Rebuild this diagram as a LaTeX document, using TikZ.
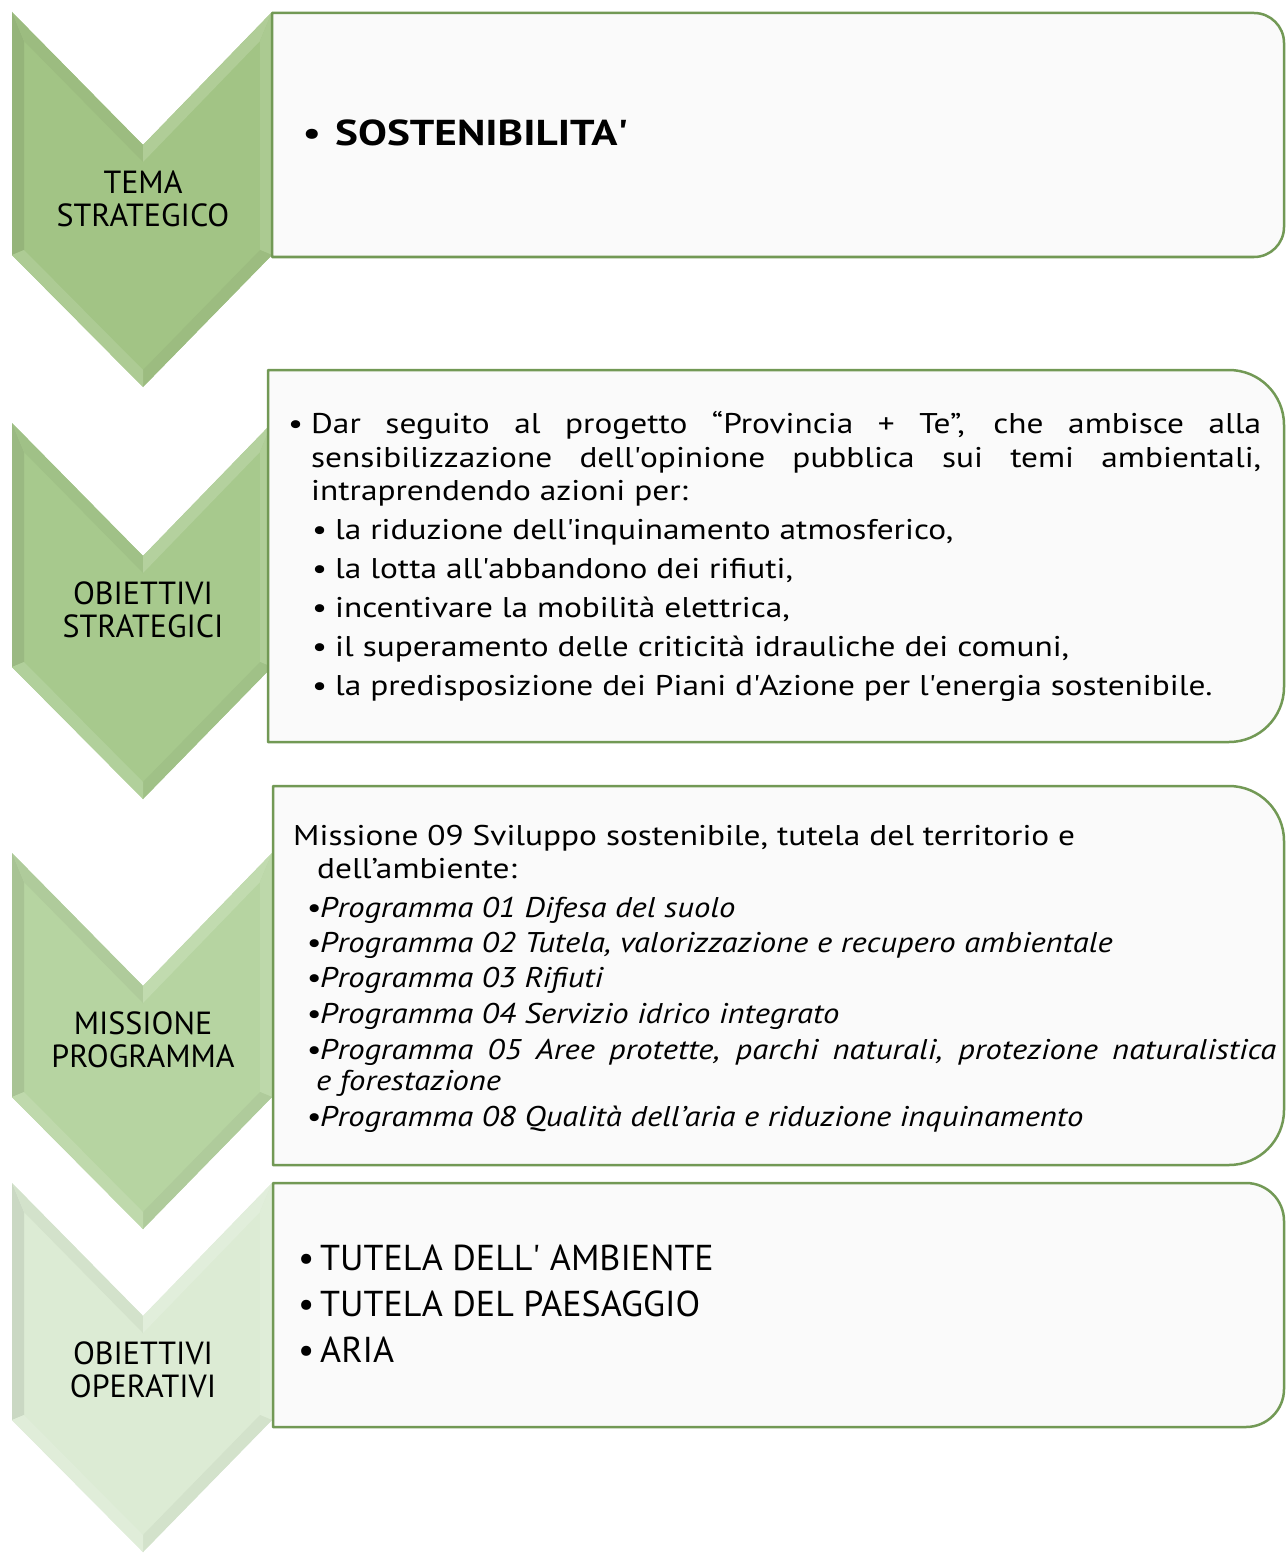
\documentclass[tikz,border=0pt]{standalone}
\usepackage{fontspec}
\setmainfont{PT Sans}
\newfontfamily\widefont{PT Sans}[FakeStretch=1.17]
\newfontfamily\widefontit{PT Sans}[FakeStretch=1.145]
\newfontfamily\widerfont{PT Sans}[FakeStretch=1.2]
\definecolor{cA}{HTML}{A2C485}
\definecolor{cB}{HTML}{A7C98D}
\definecolor{cC}{HTML}{B6D4A1}
\definecolor{cD}{HTML}{DCEBD4}
\definecolor{boxline}{HTML}{729955}
\definecolor{boxfill}{HTML}{FAFAFA}
\newcommand\mychev[3]{%
 \fill[#3] (12,#1) -- (143,{#1+133}) -- (272,#1) -- (272,#2) -- (143,{#2+132}) -- (12,#2) -- cycle;
 \fill[#3!92!black] (12,#2) -- (12,#1) -- (24,{#1+29}) -- (24,{#2-5}) -- cycle;
 \fill[#3!96!black] (12,#1) -- (143,{#1+133}) -- (143,{#1+150}) -- (24,{#1+29}) -- cycle;
 \fill[#3!85!white] (143,{#1+133}) -- (272,#1) -- (260,{#1+29}) -- (143,{#1+150}) -- cycle;
 \fill[#3!90!white] (272,#1) -- (272,#2) -- (260,{#2-5}) -- (260,{#1+29}) -- cycle;
 \fill[#3!96!black] (272,#2) -- (143,{#2+132}) -- (143,{#2+115}) -- (260,{#2-5}) -- cycle;
 \fill[#3!88!white] (143,{#2+132}) -- (12,#2) -- (24,{#2-5}) -- (143,{#2+115}) -- cycle;
}
\newcommand\mybox[4]{%
 \filldraw[boxstyle] (#1,#2) -- ({1284-#4},#2) arc[start angle=90,end angle=0,radius=#4 pt] -- (1284,{#3-#4}) arc[start angle=0,end angle=-90,radius=#4 pt] -- (#1,#3) -- cycle;}
\begin{document}
\begin{tikzpicture}[x=1pt,y=-1pt,
 boxstyle/.style={draw=boxline,fill=boxfill,line width=2.5pt,line join=round},
 lbl/.style={font=\fontsize{32}{33}\selectfont,align=center,inner sep=0pt},
 head/.style={font=\widerfont\fontsize{36}{40}\selectfont,anchor=base west,inner sep=0pt},
 big/.style={font=\fontsize{36}{40}\selectfont,anchor=base west,inner sep=0pt},
 t2/.style={font=\widefont\fontsize{28.5}{34}\selectfont,anchor=base west,inner sep=0pt},
 t3/.style={font=\widefont\fontsize{28.5}{34}\selectfont,anchor=base west,inner sep=0pt},
 t3i/.style={font=\widefontit\itshape\fontsize{28.5}{34}\selectfont,anchor=base west,inner sep=0pt}]
\useasboundingbox (0,0) rectangle (1286,1554);
\fill[white] (0,0) rectangle (1286,1554);
% chevrons
\mychev{12}{255}{cA}
\mychev{423}{667}{cB}
\mychev{853}{1097}{cC}
\mychev{1183}{1420}{cD}
% boxes
\mybox{272}{13}{257}{30}
\mybox{268}{370}{742}{55}
\mybox{273}{786}{1165}{55}
\mybox{273}{1183}{1427}{38}
% chevron labels
\node[lbl] (L1) at (143,199) {TEMA\\STRATEGICO};
\node[lbl] (L2) at (143,610) {OBIETTIVI\\STRATEGICI};
\node[lbl] (L3) at (143,1040) {MISSIONE\\PROGRAMMA};
\node[lbl] (L4) at (143,1370) {OBIETTIVI\\OPERATIVI};
% box 1
\node[head] (s1) at (302,146) {\makebox[33pt][l]{\textbullet}\textbf{SOSTENIBILITA\textquotesingle}};
% box 2
\node[t2] (o1) at (288,433) {\makebox[23pt][l]{\textbullet}\makebox[950pt][s]{Dar seguito al progetto “Provincia + Te”, che ambisce alla}};
\node[t2] (o2) at (311,467) {\makebox[950pt][s]{sensibilizzazione dell\textquotesingle opinione pubblica sui temi ambientali,}};
\node[t2] (o3) at (311,500) {intraprendendo azioni per:};
\node[t2] (o4) at (312,539) {\makebox[23pt][l]{\textbullet}la riduzione dell\textquotesingle inquinamento atmosferico,};
\node[t2] (o5) at (312,578) {\makebox[23pt][l]{\textbullet}la lotta all\textquotesingle abbandono dei rifiuti,};
\node[t2] (o6) at (312,617) {\makebox[23pt][l]{\textbullet}incentivare la mobilità elettrica,};
\node[t2] (o7) at (312,656) {\makebox[23pt][l]{\textbullet}il superamento delle criticità idrauliche dei comuni,};
\node[t2] (o8) at (312,695) {\makebox[23pt][l]{\textbullet}la predisposizione dei Piani d\textquotesingle Azione per l\textquotesingle energia sostenibile.};
% box 3
\node[t3] (m1) at (293,845) {Missione 09 Sviluppo sostenibile, tutela del territorio e};
\node[t3] (m2) at (317,878) {dell’ambiente:};
\node[t3i] (p1) at (306,917) {\makebox[14pt][l]{\textbullet}Programma 01 Difesa del suolo};
\node[t3i] (p2) at (306,952) {\makebox[14pt][l]{\textbullet}Programma 02 Tutela, valorizzazione e recupero ambientale};
\node[t3i] (p3) at (306,987) {\makebox[14pt][l]{\textbullet}Programma 03 Rifiuti};
\node[t3i] (p4) at (306,1023) {\makebox[14pt][l]{\textbullet}Programma 04 Servizio idrico integrato};
\node[t3i] (p5) at (306,1059) {\makebox[14pt][l]{\textbullet}\makebox[956pt][s]{Programma 05 Aree protette, parchi naturali, protezione naturalistica}};
\node[t3i] (p6) at (316,1090) {e forestazione};
\node[t3i] (p7) at (306,1126) {\makebox[14pt][l]{\textbullet}Programma 08 Qualità dell’aria e riduzione inquinamento};
% box 4
\node[big] (r1) at (298,1270) {\makebox[22pt][l]{\textbullet}TUTELA DELL\textquotesingle{} AMBIENTE};
\node[big] (r2) at (298,1316) {\makebox[22pt][l]{\textbullet}TUTELA DEL PAESAGGIO};
\node[big] (r3) at (298,1362) {\makebox[22pt][l]{\textbullet}ARIA};
\end{tikzpicture}
\end{document}
